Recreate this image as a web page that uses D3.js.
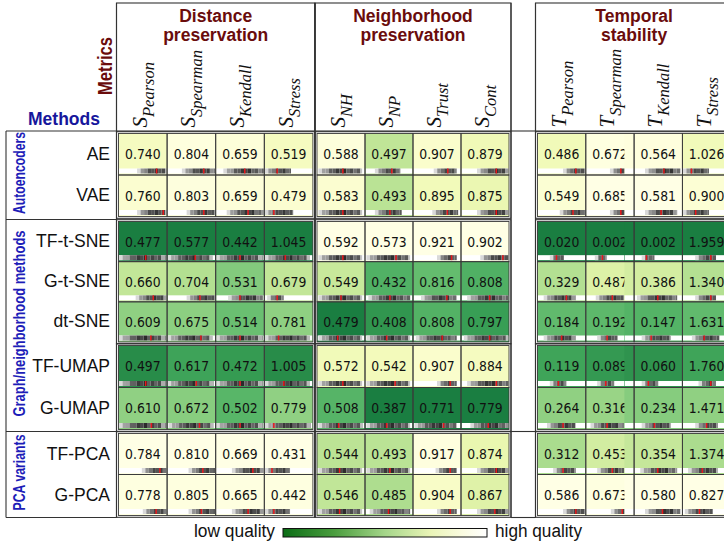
<!DOCTYPE html>
<html>
<head>
<meta charset="utf-8">
<script src="https://cdn.jsdelivr.net/npm/d3@7"></script>
<style>
  html, body { margin: 0; padding: 0; background: #fff; overflow: hidden; }
  svg { display: block; }
</style>
</head>
<body>
<svg id="chart" width="724" height="546"></svg>
<script>
// ---- data -------------------------------------------------------------
const methods = ["AE", "VAE", "TF-t-SNE", "G-t-SNE", "dt-SNE", "TF-UMAP", "G-UMAP", "TF-PCA", "G-PCA"];
const groupNames = ["Autoencoders", "Graph/neighborhood methods", "PCA variants"];
const groupRows = [[0, 1], [2, 3, 4, 5, 6], [7, 8]];
const blocks = [[0, 1], [2, 3, 4], [5, 6], [7, 8]];           // boxed row blocks

const panelTitles = [["Distance", "preservation"], ["Neighborhood", "preservation"], ["Temporal", "stability"]];
const metricSymbols = ["S", "S", "T"];
const metricSubs = [
  ["Pearson", "Spearman", "Kendall", "Stress"],
  ["NH", "NP", "Trust", "Cont"],
  ["Pearson", "Spearman", "Kendall", "Stress"]
];
const higherIsBetter = [
  [true, true, true, false],
  [true, true, true, true],
  [true, true, true, false]
];

// metric values, one entry per method (same order as `methods`)
const sPearson  = [0.740, 0.760, 0.477, 0.660, 0.609, 0.497, 0.610, 0.784, 0.778];
const sSpearman = [0.804, 0.803, 0.577, 0.704, 0.675, 0.617, 0.672, 0.810, 0.805];
const sKendall  = [0.659, 0.659, 0.442, 0.531, 0.514, 0.472, 0.502, 0.669, 0.665];
const sStress   = [0.519, 0.479, 1.045, 0.679, 0.781, 1.005, 0.779, 0.431, 0.442];
const sNH       = [0.588, 0.583, 0.592, 0.549, 0.479, 0.572, 0.508, 0.544, 0.546];
const sNP       = [0.497, 0.493, 0.573, 0.432, 0.408, 0.542, 0.387, 0.493, 0.485];
const sTrust    = [0.907, 0.895, 0.921, 0.816, 0.808, 0.907, 0.771, 0.917, 0.904];
const sCont     = [0.879, 0.875, 0.902, 0.808, 0.797, 0.884, 0.779, 0.874, 0.867];
const tPearson  = [0.486, 0.549, 0.020, 0.329, 0.184, 0.119, 0.264, 0.312, 0.586];
const tSpearman = [0.672, 0.685, 0.002, 0.487, 0.192, 0.089, 0.316, 0.453, 0.673];
const tKendall  = [0.564, 0.581, 0.002, 0.386, 0.147, 0.060, 0.234, 0.354, 0.580];
const tStress   = [1.026, 0.900, 1.959, 1.340, 1.631, 1.760, 1.471, 1.374, 0.827];
const panelValues = [
  [sPearson, sSpearman, sKendall, sStress],
  [sNH, sNP, sTrust, sCont],
  [tPearson, tSpearman, tKendall, tStress]
];

// per-frame spread strips: [start, end, mean] as fractions of the cell width
const distStrips = [
  [[.38, 1, .79], [.30, 1, .76], [.15, 1, .60], [0, .55, .26]],
  [[.38, 1, .93], [.40, 1, .76], [.22, 1, .67], [0, .60, .19]],
  [[0, 1, .56], [0, .95, .58], [0, .98, .50], [0, .95, .43]],
  [[.35, 1, .72], [.40, 1, .68], [.25, .98, .50], [.05, .40, .26]],
  [[0, 1, .67], [0, .95, .70], [0, .98, .50], [0, .95, .29]],
  [[0, 1, .56], [0, .97, .60], [0, .98, .50], [0, .95, .40]],
  [[0, 1, .68], [.02, .97, .67], [0, .98, .50], [0, .97, .19]],
  [[.48, 1, .86], [.44, 1, .74], [.33, 1, .77], [0, .53, .15]],
  [[.50, 1, .78], [.44, 1, .71], [.33, 1, .67], [0, .53, .19]]
];
const neighStrips = [
  [[.02, .95, .54], [.20, .74, .56], [.43, .92, .73], [.33, 1, .74]],
  [[.02, .95, .54], [.20, .77, .52], [.40, .95, .72], [.33, 1, .74]],
  [[.02, .95, .54], [.02, .95, .65], [.50, .92, .81], [.40, 1, .88]],
  [[.02, .95, .50], [.06, .95, .52], [.16, .92, .71], [.12, 1, .60]],
  [[.02, .95, .43], [.02, .95, .45], [.05, .92, .61], [.05, 1, .60]],
  [[.02, .95, .54], [.02, .95, .63], [.50, .92, .78], [.12, 1, .74]],
  [[.02, .97, .45], [.02, .95, .45], [.02, .92, .64], [.19, 1, .57]],
  [[.02, .95, .47], [.02, .95, .52], [.47, .92, .78], [.33, 1, .74]],
  [[.02, .95, .47], [.09, .95, .49], [.50, .92, .78], [.33, 1, .71]]
];
const tempStrips = [
  [[.53, 1, .80], [.50, 1, .73], [.22, .97, .62], [0, .55, .18]],
  [[.46, 1, .74], [.50, 1, .73], [.22, .90, .56], [0, .55, .27]],
  [[.25, .55, .39], [.18, .43, .34], [.15, .42, .25], [.26, .70, .59]],
  [[.12, .80, .60], [.20, .80, .55], [.05, .90, .49], [.26, .70, .59]],
  [[.12, .80, .50], [.23, .66, .44], [.15, .77, .35], [.19, .77, .45]],
  [[.25, .60, .43], [.23, .59, .41], [.15, .50, .29], [.33, .70, .59]],
  [[.19, .80, .53], [.09, .80, .44], [.15, .77, .42], [.26, .74, .50]],
  [[.32, .80, .53], [.23, .80, .55], [.12, .90, .49], [.11, .74, .41]],
  [[.53, 1, .80], [.52, 1, .76], [.22, .97, .59], [.04, .63, .35]]
];
const panelStrips = [distStrips, neighStrips, tempStrips];

const legendLow = "low quality";
const legendHigh = "high quality";

// ---- layout -------------------------------------------------------------
const panelX0 = [118.5, 317, 537.5];
const panelColW = [48.6, 48, 48.3];
const panelLeftExtend = [[0, 0, 0, 0], [0, 0, 0, 0], [0, 0, 9.7, 0]];
const blockY = [[133.5, 216.5], [221.5, 342], [345.5, 429.5], [433.5, 515.5]];
const headerTop = 3, headerBottom = 131, tableBottom = 517.5;

const maroon = "#6a0c0c";
const navy = "#16169c";
const sans = "'Liberation Sans', Arial, sans-serif";
const serif = "'Liberation Serif', 'Times New Roman', serif";
const mono = "'DejaVu Sans', sans-serif";

const svg = d3.select("#chart");

// row scales: one band scale per block
const rowTop = new Array(methods.length), rowH = new Array(methods.length);
blocks.forEach((rows, b) => {
  const ys = d3.scaleBand().domain(rows).range(blockY[b]).paddingInner(0);
  rows.forEach(r => { rowTop[r] = ys(r); rowH[r] = ys.bandwidth(); });
});

// column scales per panel
const colScales = panelX0.map((x0, p) =>
  d3.scaleBand().domain(d3.range(4)).range([x0, x0 + 4 * panelColW[p]]));

// colour: quality 0 (worst) .. 1 (best)
const ramp = t => d3.interpolateYlGn(0.78 * (1 - t));
const qualityScales = panelValues.map((cols, p) => cols.map((vals, c) => {
  const ext = d3.extent(vals);
  return d3.scaleLinear().domain(higherIsBetter[p][c] ? ext : [ext[1], ext[0]]).range([0, 1]);
}));

// ---- cells ---------------------------------------------------------------
const barTones = [0.78, 0.62, 0.7, 0.48, 0.58, 0.36, 0.5, 0.3, 0.64, 0.42, 0.55, 0.33, 0.72, 0.46];
const cellLayer = svg.append("g");

panelValues.forEach((cols, p) => {
  const xs = colScales[p];
  cols.forEach((vals, c) => {
    const ext = panelLeftExtend[p][c];
    const x = xs(c), w = xs.bandwidth();
    const g = cellLayer.append("g");
    methods.forEach((m, r) => {
      const y = rowTop[r], h = rowH[r];
      g.append("rect")
        .attr("x", x - ext).attr("y", y).attr("width", w + ext).attr("height", h)
        .attr("fill", ramp(qualityScales[p][c](vals[r])));
      g.append("text")
        .attr("x", x + w / 2).attr("y", y + 25.5)
        .attr("text-anchor", "middle")
        .attr("font-family", mono).attr("font-size", 14.5)
        .attr("textLength", 35.5).attr("lengthAdjust", "spacingAndGlyphs")
        .attr("fill", "#111")
        .text(vals[r].toFixed(3));
      // spread strip
      const [a, bb, mean] = panelStrips[p][r][c];
      const sy = y + h - 6.5, sh = 5;
      const sx0 = x - ext + 0.5, sw = w + ext - 1;
      g.append("rect").attr("x", sx0).attr("y", sy).attr("width", sw).attr("height", sh).attr("fill", "#fff");
      const segX = d3.scaleLinear().domain([0, 1]).range([x + 0.5, x + w - 0.5]);
      const start = segX(a), end = segX(bb), step = 3.5;
      let i = 0;
      for (let sx = start; sx < end - 0.2; sx += step, i++) {
        const f = (sx - start) / Math.max(1, end - start);
        const edge = Math.min(f, 1 - f);
        const light = barTones[i % barTones.length] * (0.55 + 0.45 * Math.max(0, 1 - edge * 3.2)) + 0.1 * (1 - edge * 2);
        const v = Math.round(255 * Math.min(0.85, Math.max(0.08, light)));
        g.append("rect")
          .attr("x", sx).attr("y", sy).attr("width", Math.min(step, end - sx)).attr("height", sh)
          .attr("fill", d3.rgb(v, v, v));
      }
      g.append("rect")
        .attr("x", segX(mean) - 0.75).attr("y", sy).attr("width", 1.5).attr("height", sh)
        .attr("fill", "#e8161a");
    });
  });
});

// cell borders on top of fills
panelValues.forEach((cols, p) => {
  const xs = colScales[p];
  cols.forEach((vals, c) => {
    methods.forEach((m, r) => {
      cellLayer.append("rect")
        .attr("x", xs(c)).attr("y", rowTop[r]).attr("width", xs.bandwidth()).attr("height", rowH[r])
        .attr("fill", "none").attr("stroke", "#3a3a3a").attr("stroke-width", 0.9);
    });
  });
});

// ---- frames ---------------------------------------------------------------
const frame = svg.append("g").attr("fill", "none").attr("stroke", "#333").attr("stroke-width", 1.1);
panelX0.forEach((x0, p) => {
  const xs = colScales[p];
  const l = xs.range()[0] - 2, rgt = xs.range()[1] + 2;
  // header box
  frame.append("rect").attr("x", l).attr("y", headerTop).attr("width", rgt - l).attr("height", headerBottom - headerTop);
  // full-height side rules
  frame.append("line").attr("x1", l).attr("x2", l).attr("y1", headerTop).attr("y2", tableBottom);
  frame.append("line").attr("x1", rgt).attr("x2", rgt).attr("y1", headerTop).attr("y2", tableBottom);
  // block boxes
  blockY.forEach(([y0, y1]) => {
    frame.append("rect").attr("x", l).attr("y", y0 - 1.8).attr("width", rgt - l).attr("height", y1 - y0 + 3.6);
  });
});
// method column box and group rules
frame.append("line").attr("x1", 6).attr("x2", 6).attr("y1", headerBottom).attr("y2", tableBottom);
[headerBottom, 219.5, 431.5, tableBottom].forEach(y => {
  frame.append("line").attr("x1", 6).attr("x2", panelX0[0] - 2).attr("y1", y).attr("y2", y);
});
[headerBottom, 431.5, tableBottom].forEach(y => {
  frame.append("line").attr("x1", colScales[1].range()[1] + 2).attr("x2", colScales[2].range()[0] - 2).attr("y1", y).attr("y2", y);
});

// ---- headers ---------------------------------------------------------------
panelTitles.forEach((lines, p) => {
  const xs = colScales[p];
  const cx = (xs.range()[0] + xs.range()[1]) / 2;
  lines.forEach((t, i) => {
    svg.append("text")
      .attr("x", cx).attr("y", 22 + i * 19)
      .attr("text-anchor", "middle")
      .attr("font-family", sans).attr("font-weight", "bold").attr("font-size", 17.5)
      .attr("fill", maroon)
      .text(t);
  });
  metricSubs[p].forEach((sub, c) => {
    const cx = xs(c) + xs.bandwidth() / 2 + 4;
    const t = svg.append("text")
      .attr("transform", `translate(${cx},127.5) rotate(-90)`)
      .attr("font-family", serif).attr("font-style", "italic").attr("fill", "#111");
    t.append("tspan").attr("font-size", 21).text(metricSymbols[p]);
    t.append("tspan").attr("font-size", 16.5).attr("dy", 7).text(sub);
  });
});

svg.append("text")
  .attr("transform", "translate(112,66) rotate(-90)")
  .attr("text-anchor", "middle")
  .attr("font-family", sans).attr("font-weight", "bold").attr("font-size", 20)
  .attr("textLength", 58).attr("lengthAdjust", "spacingAndGlyphs")
  .attr("fill", maroon).text("Metrics");

svg.append("text")
  .attr("x", 28).attr("y", 125)
  .attr("font-family", sans).attr("font-weight", "bold").attr("font-size", 18)
  .attr("textLength", 72).attr("lengthAdjust", "spacingAndGlyphs")
  .attr("fill", navy).text("Methods");

// ---- row labels ---------------------------------------------------------------
methods.forEach((m, r) => {
  svg.append("text")
    .attr("x", 110).attr("y", rowTop[r] + rowH[r] / 2 + 5.5)
    .attr("text-anchor", "end")
    .attr("font-family", sans).attr("font-size", 17.5)
    .attr("fill", "#111").text(m);
});

const groupLens = [82, 186, 76];
groupNames.forEach((name, gi) => {
  const rows = groupRows[gi];
  const y0 = rowTop[rows[0]], last = rows[rows.length - 1];
  const cy = (y0 + rowTop[last] + rowH[last]) / 2 - 2;
  svg.append("text")
    .attr("transform", `translate(24.5,${cy}) rotate(-90)`)
    .attr("text-anchor", "middle")
    .attr("font-family", sans).attr("font-weight", "bold").attr("font-size", 16)
    .attr("textLength", groupLens[gi]).attr("lengthAdjust", "spacingAndGlyphs")
    .attr("fill", "#1d1db8").text(name);
});

// ---- legend ---------------------------------------------------------------
const defs = svg.append("defs");
const grad = defs.append("linearGradient").attr("id", "qualityGrad");
[[0, "#0b6d16"], [0.25, "#4a9d3e"], [0.5, "#a5d68a"], [0.72, "#e9f4b6"], [0.88, "#fafbe0"], [1, "#ffffff"]]
  .forEach(([o, c]) => grad.append("stop").attr("offset", o).attr("stop-color", c));
const legX = d3.scaleLinear().domain([0, 1]).range([283, 487]);
svg.append("rect")
  .attr("x", legX(0)).attr("y", 528.5).attr("width", legX(1) - legX(0)).attr("height", 8.5)
  .attr("fill", "url(#qualityGrad)").attr("stroke", "#111").attr("stroke-width", 1);
svg.append("text")
  .attr("x", legX(0) - 8).attr("y", 537)
  .attr("text-anchor", "end").attr("font-family", sans).attr("font-size", 18)
  .attr("textLength", 81).attr("lengthAdjust", "spacingAndGlyphs")
  .attr("fill", "#111").text(legendLow);
svg.append("text")
  .attr("x", legX(1) + 8).attr("y", 537)
  .attr("font-family", sans).attr("font-size", 18)
  .attr("textLength", 87).attr("lengthAdjust", "spacingAndGlyphs")
  .attr("fill", "#111").text(legendHigh);
</script>
</body>
</html>
